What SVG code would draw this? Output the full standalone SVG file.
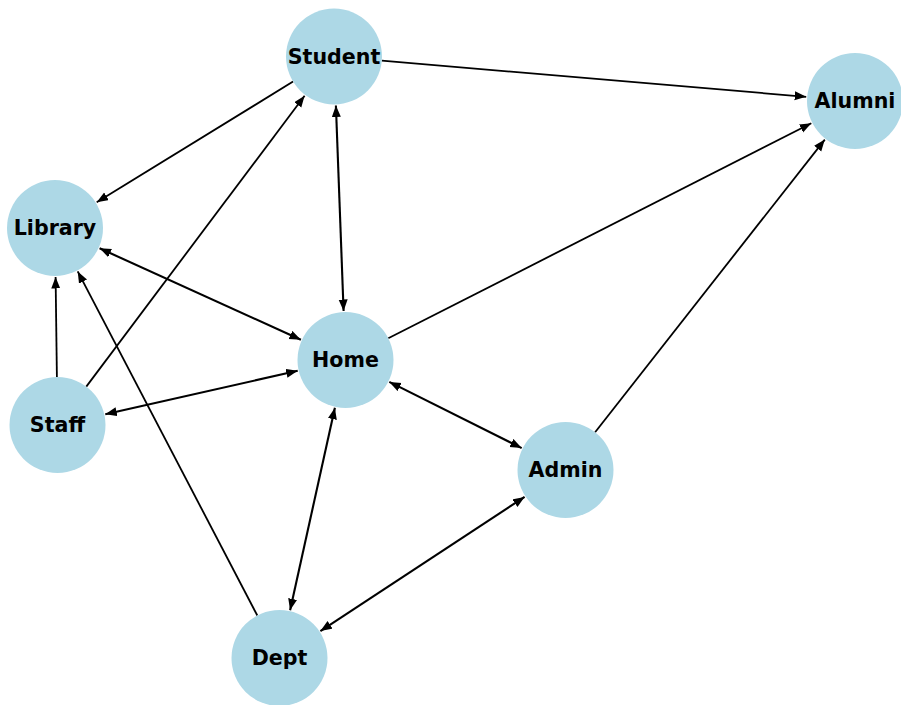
<svg xmlns="http://www.w3.org/2000/svg" width="901" height="705" viewBox="0 0 901 705">
  <style>
    .node circle { fill: #add8e6; }
    .node text { font-family: "DejaVu Sans", sans-serif; font-weight: bold; font-size: 20.6px; fill: #000; text-anchor: middle; }
    .edge { stroke: #000; stroke-width: 1.8; fill: none; marker-end: url(#arrow); }
    .both { stroke-width: 2.1; marker-start: url(#arrow); }
  </style>
  <defs>
    <marker id="arrow" markerUnits="userSpaceOnUse" markerWidth="13" markerHeight="10" refX="11.5" refY="4.5" orient="auto-start-reverse">
      <path d="M0,0 L11.5,4.5 L0,9 z" fill="#000"/>
    </marker>
  </defs>
  <rect width="901" height="705" fill="#fff"/>

  <g id="edges">
    <path class="edge" d="M381.8,60.6 L806.2,96.8"/>
    <path class="edge" d="M293.1,81.6 L96.7,202.3"/>
    <path class="edge both" d="M335.9,105.5 L343.6,311.0"/>
    <path class="edge" d="M86.3,386.6 L304.6,95.7"/>
    <path class="edge both" d="M99.6,248.3 L300.9,339.7"/>
    <path class="edge" d="M56.9,377 L55.6,277"/>
    <path class="edge" d="M257.3,615.5 L77.7,271.4"/>
    <path class="edge" d="M388.3,338.3 L811.3,123.2"/>
    <path class="edge both" d="M105.3,414.2 L297.7,370.8"/>
    <path class="edge both" d="M389.3,381.9 L521.7,448.1"/>
    <path class="edge" d="M595.1,432.2 L824.8,139.6"/>
    <path class="edge both" d="M334.9,407.8 L290.1,610.2"/>
    <path class="edge both" d="M524.6,496.9 L320.4,631.1"/>
  </g>

  <g id="student" class="node"><circle cx="334" cy="56.5" r="48"/><text x="334" y="63.8">Student</text></g>
  <g id="alumni" class="node"><circle cx="855" cy="101" r="48"/><text x="855" y="108.3">Alumni</text></g>
  <g id="library" class="node"><circle cx="55" cy="228" r="48"/><text x="55" y="235.3">Library</text></g>
  <g id="home" class="node"><circle cx="345.5" cy="360" r="48"/><text x="345.5" y="367.3">Home</text></g>
  <g id="staff" class="node"><circle cx="57.5" cy="425" r="48"/><text x="57.5" y="432.3">Staff</text></g>
  <g id="admin" class="node"><circle cx="565.5" cy="470" r="48"/><text x="565.5" y="477.3">Admin</text></g>
  <g id="dept" class="node"><circle cx="279.5" cy="658" r="48"/><text x="279.5" y="665.3">Dept</text></g>
</svg>
